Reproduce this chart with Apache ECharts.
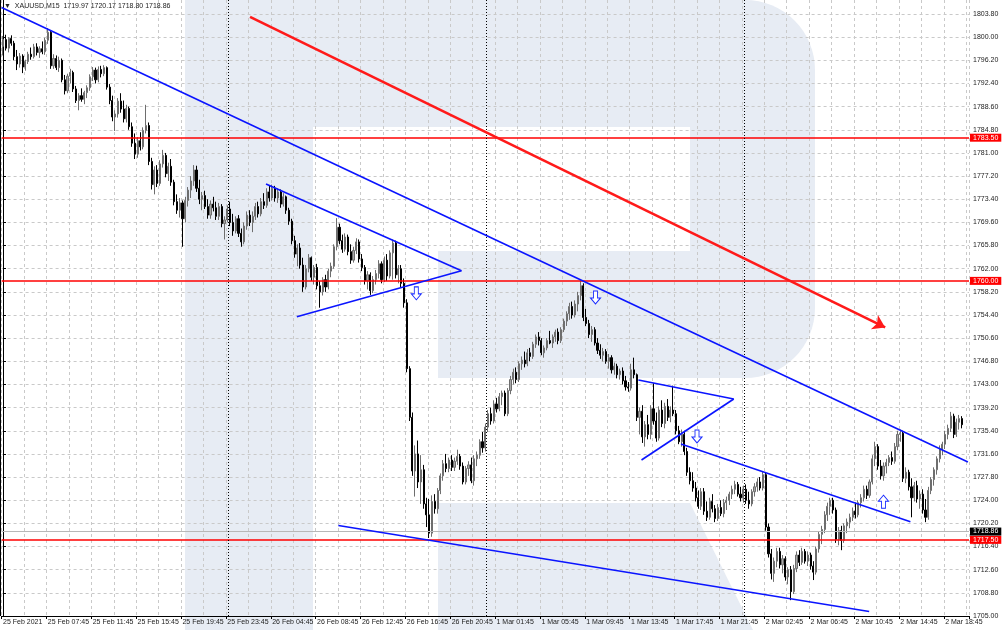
<!DOCTYPE html>
<html><head><meta charset="utf-8">
<script src="https://cdn.jsdelivr.net/npm/echarts@6/dist/echarts.min.js"></script>
<style>html,body{margin:0;padding:0;background:#fff}#c{width:1002px;height:630px}</style>
</head><body><div id="c"></div><script>
const headerText = '\u25BC  XAUUSD,M15  1719.97 1720.17 1718.80 1718.86';
const days = ['25 Feb', '26 Feb', '1 Mar', '2 Mar'];
const xTickLabels = ['25 Feb 2021','25 Feb 07:45','25 Feb 11:45','25 Feb 15:45','25 Feb 19:45','25 Feb 23:45','26 Feb 04:45','26 Feb 08:45','26 Feb 12:45','26 Feb 16:45','26 Feb 20:45','1 Mar 01:45','1 Mar 05:45','1 Mar 09:45','1 Mar 13:45','1 Mar 17:45','1 Mar 21:45','2 Mar 02:45','2 Mar 06:45','2 Mar 10:45','2 Mar 14:45','2 Mar 18:45'];
const yTicks = [1705.00,1708.80,1712.60,1716.40,1720.20,1724.00,1727.80,1731.60,1735.40,1739.20,1743.00,1746.80,1750.60,1754.40,1758.20,1762.00,1765.80,1769.60,1773.40,1777.20,1781.00,1784.80,1788.60,1792.40,1796.20,1800.00,1803.80];
// [open, high, low, close]
const candles = [
[1798.5,1800.2,1797.0,1799.6],[1799.6,1800.4,1797.8,1798.2],[1798.2,1800.0,1797.5,1799.8],[1799.8,1800.3,1798.6,1799.0],[1799.0,1799.4,1796.2,1796.8],
[1796.8,1797.9,1794.6,1795.6],[1795.6,1797.4,1795.0,1796.9],[1796.9,1797.2,1794.1,1795.1],[1795.1,1796.3,1794.5,1796.0],[1796.0,1797.6,1795.6,1797.2],
[1797.2,1798.3,1796.3,1796.8],[1796.8,1798.9,1796.5,1798.4],[1798.4,1799.0,1797.0,1797.5],[1797.5,1798.5,1796.6,1798.1],[1798.1,1799.3,1797.2,1797.6],
[1797.6,1799.9,1797.1,1799.5],[1799.5,1801.5,1798.9,1800.8],[1800.8,1801.0,1794.8,1795.3],[1795.3,1797.2,1794.8,1796.5],[1796.5,1797.0,1794.6,1795.0],
[1795.0,1796.8,1794.3,1796.2],[1796.2,1796.5,1792.6,1793.0],[1793.0,1793.8,1790.6,1791.2],[1791.2,1794.0,1790.8,1793.6],[1793.6,1794.8,1792.4,1794.2],
[1794.2,1794.5,1791.0,1791.5],[1791.5,1792.0,1789.2,1789.6],[1789.6,1790.8,1788.0,1790.4],[1790.4,1791.6,1789.4,1789.8],[1789.8,1791.2,1789.0,1790.9],
[1790.9,1792.1,1790.0,1791.7],[1791.7,1793.9,1791.2,1793.5],[1793.5,1795.1,1792.8,1794.6],[1794.6,1795.0,1792.4,1793.0],[1793.0,1795.2,1792.6,1794.7],
[1794.7,1795.3,1793.4,1794.0],[1794.0,1795.4,1793.6,1795.0],[1795.0,1795.2,1791.4,1791.8],[1791.8,1792.3,1789.0,1789.6],[1789.6,1790.4,1786.2,1786.9],
[1786.9,1788.0,1784.6,1787.4],[1787.4,1790.0,1786.8,1789.5],[1789.5,1790.8,1787.6,1788.2],[1788.2,1789.6,1786.0,1786.6],[1786.6,1788.9,1786.0,1788.3],
[1788.3,1788.6,1784.8,1785.3],[1785.3,1786.0,1782.0,1782.6],[1782.6,1784.2,1780.0,1780.8],[1780.8,1783.6,1780.2,1783.0],[1783.0,1784.4,1781.4,1782.0],
[1782.0,1785.2,1781.6,1784.7],[1784.7,1788.9,1784.2,1785.5],[1785.5,1786.0,1779.0,1779.6],[1779.6,1780.2,1775.0,1775.8],[1775.8,1778.8,1774.2,1778.2],
[1778.2,1779.0,1775.4,1776.0],[1776.0,1779.8,1775.6,1779.2],[1779.2,1781.5,1778.6,1780.6],[1780.6,1781.0,1777.0,1777.6],[1777.6,1779.4,1776.4,1778.8],
[1778.8,1780.0,1775.6,1776.2],[1776.2,1776.6,1772.4,1773.0],[1773.0,1774.2,1771.0,1771.6],[1771.6,1773.6,1770.4,1772.8],[1772.8,1773.2,1765.6,1770.2],
[1770.2,1773.8,1769.6,1773.2],[1773.2,1775.4,1772.2,1774.9],[1774.9,1777.2,1773.6,1776.4],[1776.4,1779.0,1775.6,1778.2],[1778.2,1778.9,1774.6,1775.2],
[1775.2,1776.6,1772.6,1773.4],[1773.4,1774.6,1771.6,1774.0],[1774.0,1774.8,1771.8,1772.2],[1772.2,1773.4,1770.2,1770.8],[1770.8,1773.2,1770.2,1772.6],
[1772.6,1773.8,1771.4,1772.0],[1772.0,1773.0,1770.0,1770.6],[1770.6,1772.8,1770.0,1772.2],[1772.2,1772.6,1768.8,1769.4],[1769.4,1770.6,1766.8,1770.0],
[1770.0,1772.4,1769.6,1771.8],[1771.8,1773.0,1769.0,1769.6],[1769.6,1771.0,1767.4,1768.2],[1768.2,1770.6,1767.8,1770.2],[1770.2,1770.8,1767.2,1767.8],
[1767.8,1768.6,1765.6,1766.4],[1766.4,1769.6,1766.0,1769.0],[1769.0,1771.4,1768.4,1770.8],[1770.8,1771.6,1769.0,1769.6],[1769.6,1771.4,1768.0,1770.6],
[1770.6,1772.8,1770.0,1772.2],[1772.2,1773.0,1770.4,1771.0],[1771.0,1773.6,1770.6,1773.0],[1773.0,1774.4,1771.8,1772.4],[1772.4,1775.2,1772.0,1774.6],
[1774.6,1775.6,1773.0,1773.6],[1773.6,1775.8,1773.2,1775.2],[1775.2,1775.6,1773.0,1773.6],[1773.6,1775.2,1772.8,1774.6],[1774.6,1775.0,1772.0,1772.6],
[1772.6,1774.4,1772.2,1773.8],[1773.8,1774.0,1771.0,1771.6],[1771.6,1772.0,1769.2,1769.8],[1769.8,1770.2,1766.0,1766.6],[1766.6,1767.4,1763.8,1764.4],
[1764.4,1766.0,1762.4,1765.4],[1765.4,1766.2,1762.0,1762.6],[1762.6,1763.8,1758.2,1759.0],[1759.0,1762.6,1758.6,1762.0],[1762.0,1764.4,1761.4,1763.8],
[1763.8,1764.0,1760.0,1760.6],[1760.6,1762.6,1759.4,1762.2],[1762.2,1762.8,1758.6,1759.2],[1759.2,1760.0,1755.6,1758.2],[1758.2,1760.6,1757.6,1760.2],
[1760.2,1761.0,1758.2,1759.0],[1759.0,1762.0,1758.6,1761.6],[1761.6,1763.0,1760.6,1762.4],[1762.4,1766.0,1762.0,1765.6],[1765.6,1770.3,1765.0,1768.8],
[1768.8,1769.4,1766.0,1766.6],[1766.6,1767.6,1764.6,1765.2],[1765.2,1767.8,1764.8,1767.2],[1767.2,1767.6,1764.2,1764.8],[1764.8,1766.0,1762.8,1763.4],
[1763.4,1765.6,1763.0,1765.0],[1765.0,1767.0,1764.4,1766.4],[1766.4,1766.8,1763.0,1763.6],[1763.6,1764.4,1761.6,1762.2],[1762.2,1762.6,1759.4,1760.0],
[1760.0,1761.6,1758.6,1761.0],[1761.0,1761.4,1757.7,1758.4],[1758.4,1760.8,1758.0,1760.2],[1760.2,1761.8,1759.4,1761.2],[1761.2,1763.4,1760.4,1762.8],
[1762.8,1763.2,1759.6,1760.2],[1760.2,1764.0,1759.8,1763.4],[1763.4,1764.4,1760.0,1760.8],[1760.8,1765.0,1760.4,1764.6],[1764.6,1766.8,1760.2,1766.2],
[1766.2,1766.6,1760.4,1761.0],[1761.0,1762.6,1759.6,1762.0],[1762.0,1762.6,1759.0,1759.6],[1759.6,1760.4,1755.6,1756.4],[1756.4,1757.0,1745.0,1745.6],
[1745.6,1746.0,1737.0,1737.6],[1737.6,1738.4,1728.0,1728.8],[1728.8,1733.0,1724.6,1731.6],[1731.6,1733.8,1726.0,1727.0],[1727.0,1731.4,1723.4,1729.0],
[1729.0,1729.8,1722.6,1723.4],[1723.4,1724.4,1719.6,1721.6],[1721.6,1724.2,1717.8,1718.6],[1718.6,1724.8,1718.0,1723.8],[1723.8,1725.0,1721.8,1722.6],
[1722.6,1726.0,1721.8,1725.6],[1725.6,1728.4,1725.0,1728.0],[1728.0,1730.6,1727.2,1730.0],[1730.0,1731.6,1728.6,1729.2],[1729.2,1731.0,1728.6,1730.6],
[1730.6,1731.4,1728.8,1729.4],[1729.4,1731.0,1728.8,1730.4],[1730.4,1732.3,1729.8,1731.2],[1731.2,1731.6,1729.0,1729.6],[1729.6,1730.2,1726.6,1727.0],
[1727.0,1729.6,1726.6,1729.2],[1729.2,1730.4,1728.0,1729.8],[1729.8,1731.0,1726.8,1727.2],[1727.2,1731.4,1726.4,1730.8],[1730.8,1732.0,1729.6,1731.4],
[1731.4,1734.0,1730.8,1733.6],[1733.6,1735.2,1731.8,1732.6],[1732.6,1736.6,1732.0,1736.0],[1736.0,1738.8,1735.2,1738.2],[1738.2,1739.2,1736.4,1737.0],
[1737.0,1740.4,1736.6,1739.8],[1739.8,1740.8,1738.4,1739.0],[1739.0,1741.6,1738.6,1741.0],[1741.0,1742.0,1739.6,1741.6],[1741.6,1742.0,1737.8,1738.2],
[1738.2,1742.4,1737.8,1742.0],[1742.0,1744.4,1741.4,1743.8],[1743.8,1745.6,1743.0,1745.0],[1745.0,1745.8,1743.2,1743.8],[1743.8,1746.8,1743.4,1746.4],
[1746.4,1747.6,1745.4,1747.0],[1747.0,1748.4,1745.8,1746.4],[1746.4,1748.8,1746.0,1748.2],[1748.2,1749.0,1746.8,1747.6],[1747.6,1750.0,1747.2,1749.6],
[1749.6,1751.2,1749.0,1750.8],[1750.8,1751.6,1749.4,1750.2],[1750.2,1750.6,1747.8,1748.2],[1748.2,1749.4,1747.4,1749.0],[1749.0,1750.6,1748.6,1750.2],
[1750.2,1751.8,1749.6,1749.8],[1749.8,1751.2,1749.0,1750.8],[1750.8,1752.0,1750.0,1751.6],[1751.6,1752.2,1749.6,1750.2],[1750.2,1752.4,1749.8,1752.0],
[1752.0,1753.8,1751.6,1753.4],[1753.4,1755.0,1752.6,1754.6],[1754.6,1756.4,1753.6,1755.8],[1755.8,1756.6,1753.8,1754.4],[1754.4,1756.8,1754.0,1756.2],
[1756.2,1758.2,1755.0,1757.6],[1757.6,1760.1,1756.8,1759.2],[1759.2,1759.6,1753.4,1754.0],[1754.0,1755.4,1752.6,1753.0],[1753.0,1753.6,1750.6,1751.2],
[1751.2,1752.6,1750.0,1752.0],[1752.0,1752.4,1749.4,1749.8],[1749.8,1750.6,1748.0,1748.6],[1748.6,1749.6,1747.2,1747.8],[1747.8,1749.0,1746.8,1748.4],
[1748.4,1748.8,1746.4,1746.8],[1746.8,1748.0,1745.6,1747.4],[1747.4,1747.8,1744.8,1745.4],[1745.4,1746.6,1744.6,1746.0],[1746.0,1746.4,1744.0,1744.6],
[1744.6,1745.6,1743.8,1745.2],[1745.2,1745.8,1743.0,1743.6],[1743.6,1744.4,1742.0,1742.6],[1742.6,1743.4,1741.8,1742.4],[1742.4,1746.4,1742.0,1745.4],
[1745.4,1747.4,1744.0,1744.6],[1744.6,1744.8,1737.0,1737.6],[1737.6,1739.2,1734.8,1738.6],[1738.6,1739.6,1733.4,1734.4],[1734.4,1737.0,1732.8,1736.4],
[1736.4,1738.0,1734.0,1734.8],[1734.8,1739.6,1734.0,1739.0],[1739.0,1743.2,1736.4,1737.0],[1737.0,1738.4,1733.6,1734.2],[1734.2,1739.4,1733.8,1738.8],
[1738.8,1740.4,1736.0,1736.6],[1736.6,1740.0,1735.8,1739.4],[1739.4,1740.6,1737.0,1737.6],[1737.6,1739.4,1736.8,1738.8],[1738.8,1742.8,1737.8,1738.2],
[1738.2,1738.8,1734.8,1735.4],[1735.4,1736.2,1733.2,1733.6],[1733.6,1735.6,1732.8,1734.8],[1734.8,1735.4,1731.4,1732.0],[1732.0,1732.6,1728.0,1728.6],
[1728.6,1729.4,1726.6,1727.2],[1727.2,1728.6,1725.4,1726.0],[1726.0,1727.0,1723.8,1724.4],[1724.4,1725.6,1722.6,1723.0],[1723.0,1726.0,1722.4,1725.4],
[1725.4,1726.0,1721.6,1722.2],[1722.2,1723.8,1720.6,1721.2],[1721.2,1724.4,1720.8,1723.8],[1723.8,1725.0,1722.0,1722.6],[1722.6,1723.2,1720.4,1721.0],
[1721.0,1723.4,1720.6,1722.8],[1722.8,1724.0,1721.4,1721.8],[1721.8,1724.2,1721.2,1723.6],[1723.6,1724.6,1722.4,1724.0],[1724.0,1725.4,1723.2,1725.0],
[1725.0,1726.4,1724.2,1725.8],[1725.8,1727.2,1725.0,1726.6],[1726.6,1727.0,1724.6,1725.0],[1725.0,1726.2,1723.8,1724.4],[1724.4,1726.4,1723.6,1725.8],
[1725.8,1726.6,1723.4,1724.0],[1724.0,1725.4,1722.6,1723.4],[1723.4,1725.8,1723.0,1725.4],[1725.4,1726.8,1724.6,1726.2],[1726.2,1727.6,1725.4,1727.0],
[1727.0,1727.8,1725.6,1726.0],[1726.0,1728.8,1725.6,1728.2],[1728.2,1728.6,1719.0,1719.6],[1719.6,1720.2,1714.6,1715.2],[1715.2,1716.0,1711.0,1712.0],
[1712.0,1714.6,1710.6,1714.0],[1714.0,1716.2,1713.0,1715.6],[1715.6,1716.2,1712.8,1713.4],[1713.4,1715.0,1712.0,1714.4],[1714.4,1714.8,1710.8,1711.4],
[1711.4,1713.0,1710.2,1712.6],[1712.6,1713.2,1707.6,1709.0],[1709.0,1713.4,1708.6,1712.8],[1712.8,1715.6,1712.2,1715.0],[1715.0,1715.8,1713.2,1713.8],
[1713.8,1716.2,1713.4,1715.6],[1715.6,1716.0,1713.6,1714.0],[1714.0,1715.6,1713.2,1715.0],[1715.0,1715.4,1712.6,1713.2],[1713.2,1714.0,1710.9,1712.2],
[1712.2,1716.4,1711.8,1716.0],[1716.0,1718.8,1715.4,1718.4],[1718.4,1719.8,1716.8,1719.2],[1719.2,1722.2,1718.6,1721.6],[1721.6,1723.6,1720.6,1723.0],
[1723.0,1724.4,1721.6,1724.0],[1724.0,1724.4,1721.8,1722.4],[1722.4,1722.8,1717.0,1717.6],[1717.6,1719.6,1716.6,1719.0],[1719.0,1719.8,1715.8,1717.4],
[1717.4,1720.2,1717.0,1719.8],[1719.8,1721.0,1718.6,1720.4],[1720.4,1721.8,1719.4,1721.2],[1721.2,1722.8,1720.6,1722.2],[1722.2,1723.6,1721.0,1721.6],
[1721.6,1724.0,1721.2,1723.6],[1723.6,1725.0,1722.8,1724.4],[1724.4,1726.4,1723.8,1725.8],[1725.8,1726.4,1724.2,1724.8],[1724.8,1727.4,1724.4,1727.0],
[1727.0,1731.4,1726.6,1730.8],[1730.8,1733.6,1729.6,1732.8],[1732.8,1733.2,1729.0,1729.6],[1729.6,1730.6,1727.4,1728.0],[1728.0,1730.2,1727.2,1729.6],
[1729.6,1730.8,1728.4,1730.2],[1730.2,1731.4,1729.6,1731.0],[1731.0,1732.0,1729.8,1730.4],[1730.4,1733.4,1730.0,1732.8],[1732.8,1735.4,1732.2,1734.8],
[1734.8,1735.6,1733.6,1735.0],[1735.0,1735.4,1727.0,1727.6],[1727.6,1729.4,1726.8,1728.6],[1728.6,1729.0,1725.6,1726.2],[1726.2,1727.6,1721.2,1724.4],
[1724.4,1727.0,1723.8,1726.4],[1726.4,1727.2,1723.6,1724.2],[1724.2,1725.6,1722.6,1725.0],[1725.0,1725.8,1721.8,1722.4],[1722.4,1724.2,1720.4,1721.2],
[1721.2,1726.2,1720.8,1725.6],[1725.6,1727.8,1725.0,1727.4],[1727.4,1729.4,1726.4,1729.0],[1729.0,1731.2,1728.2,1730.8],[1730.8,1733.0,1730.2,1732.4],
[1732.4,1733.6,1731.4,1733.2],[1733.2,1735.4,1732.4,1734.8],[1734.8,1736.4,1734.0,1735.8],[1735.8,1738.5,1735.2,1737.8],[1737.8,1738.2,1734.2,1734.8],
[1734.8,1737.4,1734.4,1736.8],[1736.8,1738.0,1735.6,1737.4],[1737.4,1737.8,1735.8,1736.4]
];
const levelLines = [1783.50, 1760.00, 1717.50];
const lastPrice = 1718.86;
const daySeparators = [80.5, 172.5, 264.5];
// trend lines as [[barIndex, price], [barIndex, price]]
const blueLines = [
  [[-0.5, 1804.87], [344.1, 1730.27]],
  [[93.8, 1775.90], [163.5, 1761.67]],
  [[104.8, 1754.12], [163.5, 1761.67]],
  [[119.6, 1719.85], [308.9, 1705.74]],
  [[226.6, 1743.73], [260.6, 1740.61]],
  [[227.7, 1730.60], [260.6, 1740.61]],
  [[241.8, 1733.23], [323.6, 1720.48]]
];
const redArrow = [[88.1, 1803.33], [314.6, 1752.37]];
const downArrows = [[147.4, 1757.96], [211.3, 1757.28], [247.5, 1734.46]];
const upArrows = [[314.0, 1723.76]];

const N = 345;
const categories = [];
(function () {
  const pad = n => (n < 10 ? '0' : '') + n;
  let d = 0, h = 3, m = 45;
  while (categories.length < N) {
    categories.push(days[Math.min(d, days.length - 1)] + ' ' + pad(h) + ':' + pad(m));
    m += 15; if (m === 60) { m = 0; h++; }
    if (h === 24) { h = 1; m = 0; d++; }
  }
})();

const FONT = 'Liberation Sans';
const chart = echarts.init(document.getElementById('c'), null, { renderer: 'canvas' });
const wm = '#e7ecf4';
const option = {
  animation: false,
  backgroundColor: '#ffffff',
  textStyle: { fontFamily: FONT },
  grid: { left: 0, right: 33, top: 0, bottom: 14, containLabel: false },
  graphic: [
    { type: 'rect', z: -10, silent: true, shape: { x: 185, y: 0, width: 128, height: 630 }, style: { fill: wm } },
    { type: 'rect', z: -10, silent: true, shape: { x: 313, y: 0, width: 502, height: 378, r: [0, 70, 70, 0] }, style: { fill: wm } },
    { type: 'rect', z: -9, silent: true, shape: { x: 313, y: 127, width: 377, height: 124 }, style: { fill: '#fff' } },
    { type: 'rect', z: -9, silent: true, shape: { x: 313, y: 251, width: 125, height: 127 }, style: { fill: '#fff' } },
    { type: 'polygon', z: -10, silent: true, shape: { points: [[438, 503], [690, 503], [753, 630], [438, 630]] }, style: { fill: wm } },
    { type: 'line', z: 50, silent: true, shape: { x1: 0.5, y1: 0, x2: 0.5, y2: 616 }, style: { stroke: '#000', lineWidth: 1 } },
    { type: 'text', z: 50, silent: true, left: 4, top: 3, style: { text: headerText, fill: '#222', font: '7px "Liberation Sans"' } }
  ],
  xAxis: [
    {
      type: 'category', data: categories, boundaryGap: true,
      axisLine: { lineStyle: { color: '#000', width: 1 } },
      axisTick: { show: true, interval: 15, length: 3, lineStyle: { color: '#000' } },
      axisLabel: {
        interval: 15, fontSize: 7, color: '#222', align: 'left', margin: 3, fontFamily: FONT,
        formatter: (v, idx) => xTickLabels[idx / 16] || ''
      },
      splitLine: { show: true, interval: 7, lineStyle: { color: '#c9c9c9', type: [3, 3], width: 1 } }
    },
    { type: 'value', min: -0.5, max: N - 0.5, show: false }
  ],
  yAxis: [{
    type: 'value', position: 'right', min: 1705, max: 1806.1, scale: true,
    axisLine: { show: true, lineStyle: { color: '#000', width: 1 } },
    axisTick: { show: true, length: 3, customValues: yTicks, lineStyle: { color: '#000' } },
    axisLabel: { customValues: yTicks, fontSize: 7, color: '#222', margin: 4, fontFamily: FONT, formatter: v => v.toFixed(2) },
    splitLine: { show: true, lineStyle: { color: '#c9c9c9', type: [3, 3], width: 1 } }
  }],
  series: [
    {
      type: 'candlestick', xAxisIndex: 0, yAxisIndex: 0, barWidth: 1.6,
      data: candles.map(c => [c[0], c[3], c[2], c[1]]),
      itemStyle: { color: '#a9a9a9', color0: '#000000', borderColor: '#6e6e6e', borderColor0: '#000000', borderWidth: 1 },
      markLine: {
        silent: true, symbol: 'none', animation: false,
        data: [
          ...levelLines.map(v => ({ yAxis: v, lineStyle: { color: '#ff0000', width: 1.6, type: 'solid' },
            label: { show: true, position: 'end', distance: 1, formatter: v.toFixed(2), color: '#fff', backgroundColor: '#ff0000', padding: [1, 3, 0, 3], fontSize: 7, fontFamily: FONT } })),
          { yAxis: lastPrice, lineStyle: { color: '#b8b8b8', width: 1, type: 'solid' },
            label: { show: true, position: 'end', distance: 1, formatter: lastPrice.toFixed(2), color: '#fff', backgroundColor: '#000', padding: [1, 3, 0, 3], fontSize: 7, fontFamily: FONT } }
        ]
      }
    },
    {
      type: 'line', xAxisIndex: 1, yAxisIndex: 0, data: [], silent: true,
      markLine: {
        silent: true, symbol: 'none', animation: false, label: { show: false },
        data: daySeparators.map(v => ({ xAxis: v, lineStyle: { color: '#000', width: 1, type: [1, 2] } }))
      }
    },
    ...blueLines.map(seg => ({
      type: 'line', xAxisIndex: 1, yAxisIndex: 0, data: seg, symbol: 'none', silent: true, clip: false,
      lineStyle: { color: '#0a14ff', width: 1.6 }, z: 5
    })),
    {
      type: 'line', xAxisIndex: 1, yAxisIndex: 0, data: [], silent: true, z: 5,
      markLine: {
        silent: true, animation: false, symbol: ['none', 'arrow'], symbolSize: 12, label: { show: false },
        lineStyle: { color: '#ff1a1a', width: 2.6, type: 'solid' },
        data: [[{ coord: redArrow[0] }, { coord: redArrow[1], symbol: 'arrow', symbolSize: 12 }]]
      }
    },
    {
      type: 'scatter', xAxisIndex: 1, yAxisIndex: 0, data: downArrows, silent: true, z: 6,
      symbol: 'path://M3,0L7,0L7,7L10,7L5,13L0,7L3,7Z', symbolSize: [10, 13],
      itemStyle: { color: '#ffffff', borderColor: '#1a2cff', borderWidth: 1, opacity: 1 }
    },
    {
      type: 'scatter', xAxisIndex: 1, yAxisIndex: 0, data: upArrows, silent: true, z: 6,
      symbol: 'path://M5,0L10,6L7,6L7,13L3,13L3,6L0,6Z', symbolSize: [10, 13],
      itemStyle: { color: '#ffffff', borderColor: '#1a2cff', borderWidth: 1, opacity: 1 }
    }
  ]
};
chart.setOption(option);
</script></body></html>
